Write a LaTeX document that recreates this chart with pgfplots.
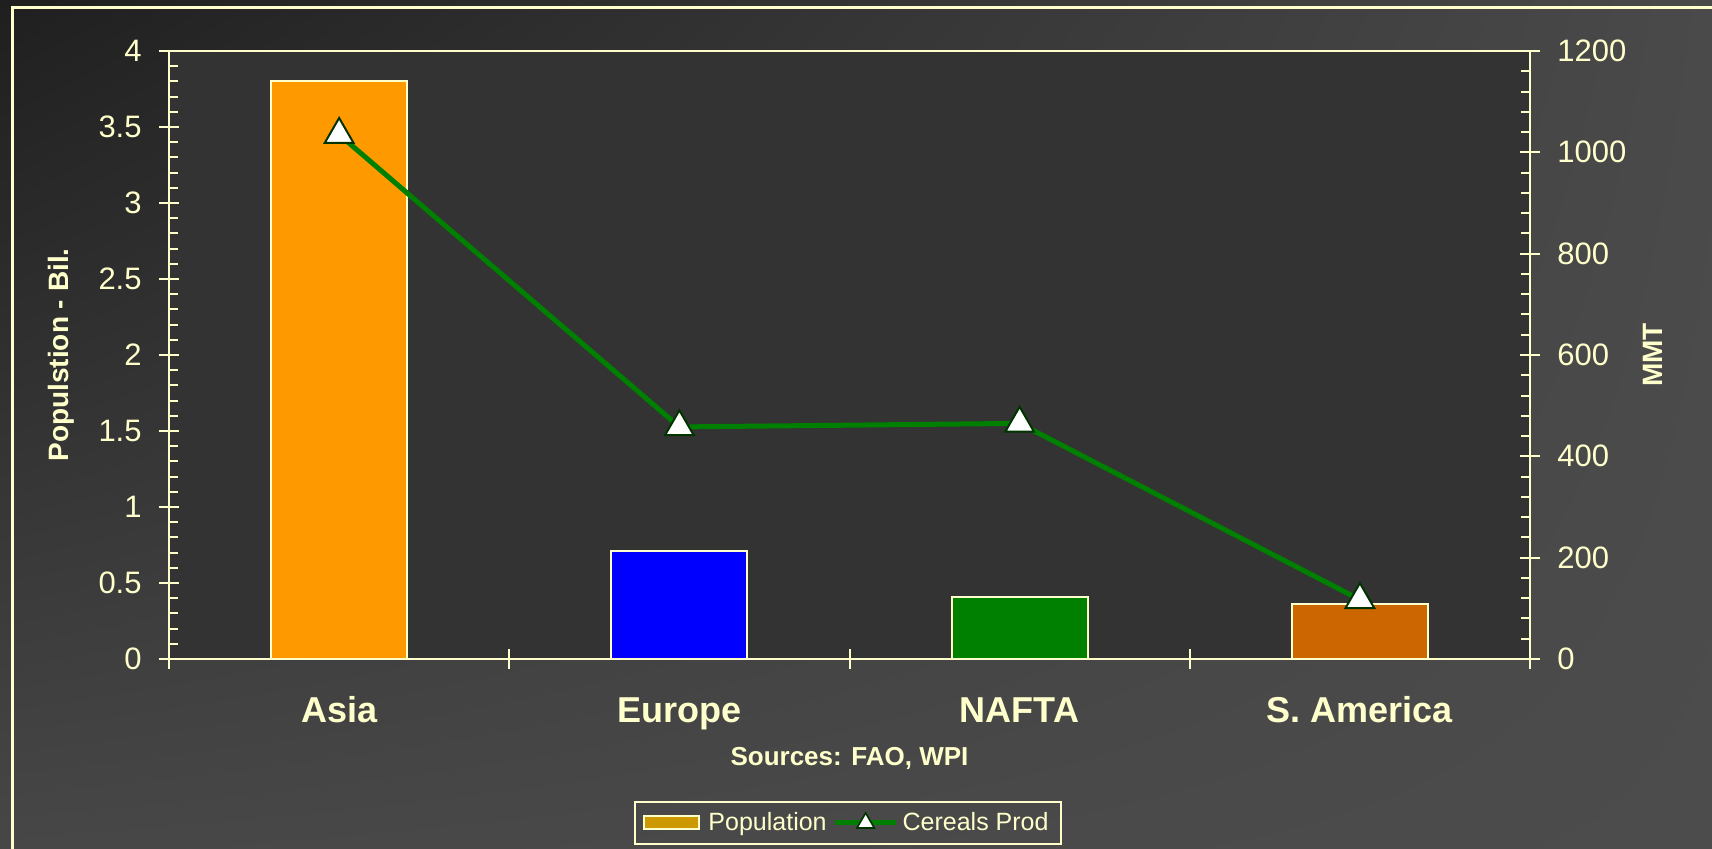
\documentclass[border=0pt]{standalone}
\usepackage{pgfplots}
\pgfplotsset{compat=1.18}
\usetikzlibrary{shadings}
\usepackage{fontspec}
\setmainfont{Liberation Sans}
\definecolor{cream}{HTML}{FFFFCC}
\definecolor{plotbg}{HTML}{333333}
\definecolor{asia}{HTML}{FF9900}
\definecolor{europe}{HTML}{0000FF}
\definecolor{nafta}{HTML}{008000}
\definecolor{samer}{HTML}{CC6600}
\definecolor{popgold}{HTML}{CC9900}
\definecolor{lgreen}{HTML}{008000}
\definecolor{mkgreen}{HTML}{003300}
\definecolor{bgA}{HTML}{1F1F1F}
\definecolor{bgB}{HTML}{4A4A4A}
\definecolor{bgC}{HTML}{474747}
\definecolor{bgD}{HTML}{4C4C4C}
\begin{document}
\begin{tikzpicture}
\useasboundingbox (0,0) rectangle (856pt,424.5pt);
\shade[upper left=bgA, upper right=bgB, lower left=bgC, lower right=bgD] (0,0) rectangle (856pt,424.5pt);
\draw[cream, line width=1.5pt] (6pt,-5pt) -- (6pt,420.5pt) -- (861pt,420.5pt);
\pgfplotsset{
  common/.style={
    at={(84.5pt,95pt)}, anchor=south west,
    scale only axis, width=680.5pt, height=304pt,
    xmin=-0.5, xmax=3.5,
    axis line style={cream, line width=1pt},
    every tick/.style={cream, line width=1pt},
    tick align=center, major tick length=10pt,
    /pgf/number format/assume math mode=true,
    /pgf/number format/1000 sep={},
  }
}
\begin{axis}[
  common,
  ymin=0, ymax=4,
  axis background/.style={fill=plotbg},
  xtick={-0.5,0.5,1.5,2.5,3.5}, xticklabels={},
  extra x ticks={0,1,2,3},
  extra x tick labels={Asia,Europe,NAFTA,S. America},
  extra x tick style={major tick length=0pt},
  xtick pos=bottom,
  ytick={0,0.5,...,4}, ytick pos=left,
  extra y ticks={0.1,0.2,0.3,0.4,0.6,0.7,0.8,0.9,1.1,1.2,1.3,1.4,1.6,1.7,1.8,1.9,2.1,2.2,2.3,2.4,2.6,2.7,2.8,2.9,3.1,3.2,3.3,3.4,3.6,3.7,3.8,3.9},
  extra y tick labels={},
  extra y tick style={tick align=inside, major tick length=4.5pt},
  xticklabel style={font=\fontsize{18}{21}\selectfont\bfseries, text=cream, anchor=base, yshift=-31.75pt, inner sep=0pt},
  yticklabel style={font=\fontsize{15.5}{18}\selectfont, text=cream, anchor=east, xshift=-8.5pt, inner sep=0pt},
  xlabel={Sources: FAO, WPI},
  xlabel style={at={(axis description cs:0.5,-0.176)}, anchor=base, font=\fontsize{13}{15}\selectfont\bfseries, text=cream},
  ylabel={Populstion - Bil.},
  ylabel style={at={(axis description cs:-0.0794,0.5)}, anchor=center, rotate=0, font=\fontsize{14}{17}\selectfont\bfseries, text=cream},
]
\addplot[ybar, bar width=0.4, bar shift=0pt, fill=asia, draw=cream, line width=1pt] coordinates {(0,3.80)};
\addplot[ybar, bar width=0.4, bar shift=0pt, fill=europe, draw=cream, line width=1pt] coordinates {(1,0.71)};
\addplot[ybar, bar width=0.4, bar shift=0pt, fill=nafta, draw=cream, line width=1pt] coordinates {(2,0.41)};
\addplot[ybar, bar width=0.4, bar shift=0pt, fill=samer, draw=cream, line width=1pt] coordinates {(3,0.36)};
\end{axis}
\begin{axis}[
  common,
  ymin=0, ymax=1200,
  axis x line=none, axis y line*=right,
  ytick={0,200,...,1200},
  extra y ticks={0,40,...,1200},
  extra y tick labels={},
  extra y tick style={tick align=inside, major tick length=4.5pt},
  yticklabel style={font=\fontsize{15.5}{18}\selectfont, text=cream, anchor=west, xshift=8.5pt, inner sep=0pt},
  ylabel={MMT},
  ylabel style={at={(axis description cs:1.0904,0.5)}, anchor=center, rotate=0, font=\fontsize{14}{17}\selectfont\bfseries, text=cream},
  legend style={at={(0.4989,-0.2697)}, anchor=center, draw=cream, line width=1pt, fill=none, text=cream,
    font=\fontsize{12.5}{15}\selectfont, inner xsep=4pt, inner ysep=3pt,
    /tikz/every even column/.append style={column sep=1pt}},
  legend columns=-1,
  legend cell align=left,
]
\addlegendimage{legend image code/.code={\draw[fill=popgold,draw=cream,line width=1pt] (0pt,-3.25pt) rectangle (27.5pt,3.25pt); \path[draw=none] (0pt,0pt) -- (30pt,0pt);}}
\addlegendentry{Population}
\addlegendimage{legend image code/.code={\draw[lgreen,line width=2.5pt] (0pt,0pt) -- (30.5pt,0pt); \draw[mkgreen, line width=0.8pt, mark options={fill=white}] plot[only marks, mark=triangle*, mark size=5pt] coordinates {(15.25pt,0pt)};}}
\addlegendentry{Cereals Prod}
\addplot[forget plot, color=lgreen, line width=2.5pt, mark=triangle*, mark size=8.3pt, mark options={fill=white, draw=mkgreen, line width=1pt}] coordinates {(0,1035) (1,458) (2,465) (3,117)};
\end{axis}
\end{tikzpicture}
\end{document}
